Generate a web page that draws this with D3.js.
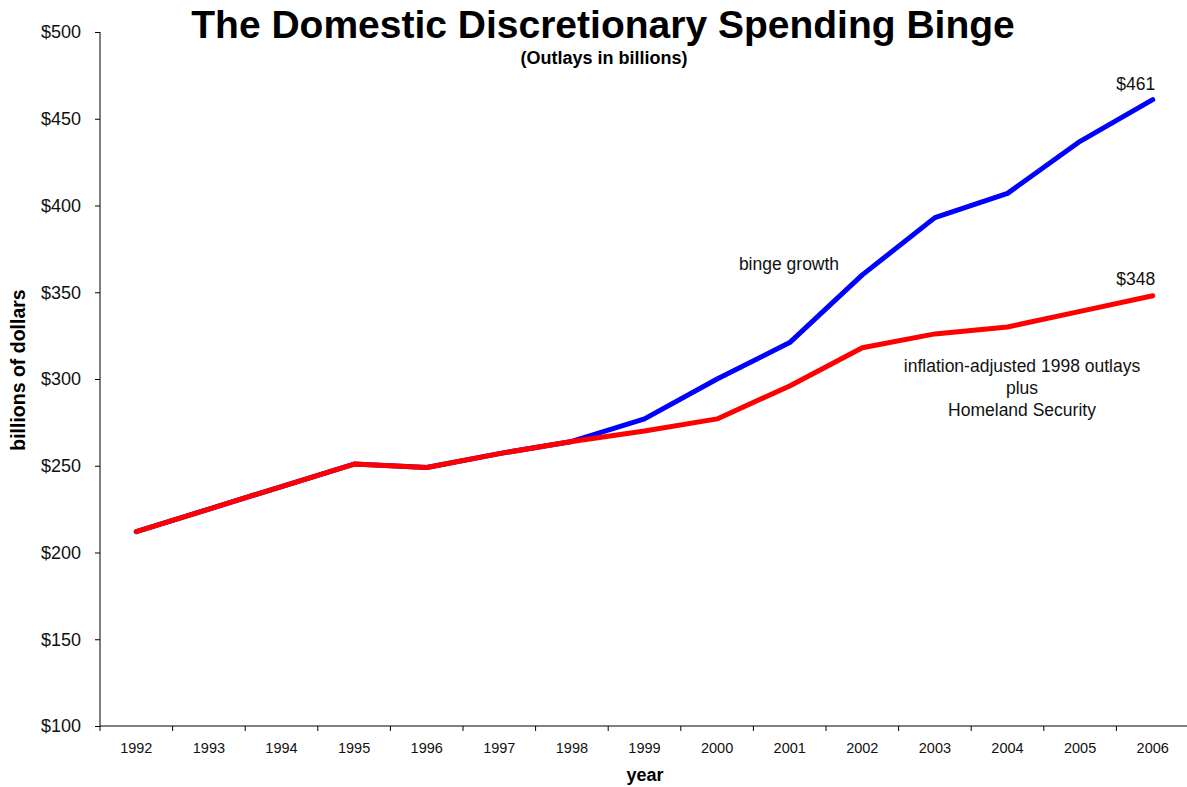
<!DOCTYPE html>
<html>
<head>
<meta charset="utf-8">
<script src="https://cdn.jsdelivr.net/npm/d3@7"></script>
<style>
  body { margin: 0; background: #fff; }
  svg, svg text { font-family: "Liberation Sans", Arial, sans-serif; }
</style>
</head>
<body>
<div id="container"></div>
<script>
// data (billions of dollars)
const years = ["1992","1993","1994","1995","1996","1997","1998","1999","2000","2001","2002","2003","2004","2005","2006"];
const bingeOutlays = [212, 225, 238, 251, 249, 257, 264, 277, 300, 321, 360, 393, 407, 437, 461];
const adjustedOutlays = [212, 225, 238, 251, 249, 257, 264, 270, 277, 296, 318, 326, 330, 339, 348];
const yTicks = [100, 150, 200, 250, 300, 350, 400, 450, 500];

const width = 1187,
height = 787,
margin = {top: 32, bottom: 61, left: 100, right: -2};

const svg = d3.select("#container").append("svg")
  .attr("width", width)
  .attr("height", height)

// SCALES
const xScale = d3.scaleBand()
  .domain(years)
  .range([margin.left, width - margin.right])

const yScale = d3.scaleLinear()
  .domain([100, 500])
  .range([height - margin.bottom, margin.top])

const xMid = d => xScale(d) + xScale.bandwidth() / 2

// AXES
const yAxis = d3.axisLeft(yScale)
  .tickValues(yTicks)
  .tickSize(5)
  .tickPadding(14)
  .tickFormat(d => "$" + d)

const yAxisGroup = svg.append("g")
  .attr("transform", `translate(${margin.left},0)`)
  .call(yAxis)
  .attr("font-family", "Liberation Sans, Arial, sans-serif")
  .attr("font-size", "18px")
yAxisGroup.select(".domain").attr("d", `M0,${yScale(100)}V${yScale(500)}`)
yAxisGroup.selectAll("text").attr("fill", "#111")

// x ticks sit on the band edges, labels at band centres
const xAxisGroup = svg.append("g")
  .attr("transform", `translate(0,${yScale(100)})`)
xAxisGroup.append("line")
  .attr("x1", margin.left).attr("x2", width - margin.right)
  .attr("stroke", "#000").attr("stroke-width", 1)
xAxisGroup.selectAll("line.tick")
  .data(years)
  .join("line")
  .attr("class", "tick")
  .attr("x1", d => xScale(d)).attr("x2", d => xScale(d))
  .attr("y1", 0).attr("y2", 5)
  .attr("stroke", "#000")
xAxisGroup.selectAll("text")
  .data(years)
  .join("text")
  .attr("x", d => xMid(d))
  .attr("y", 27)
  .attr("text-anchor", "middle")
  .attr("font-size", "14.5px")
  .attr("fill", "#111")
  .text(d => d)

// LINES
const line = d3.line()
  .x((d, i) => xMid(years[i]))
  .y(d => yScale(d))

svg.append("path")
  .datum(bingeOutlays)
  .attr("d", line)
  .attr("fill", "none")
  .attr("stroke", "#0000ff")
  .attr("stroke-width", 5)
  .attr("stroke-linejoin", "round")
  .attr("stroke-linecap", "round")

svg.append("path")
  .datum(adjustedOutlays)
  .attr("d", line)
  .attr("fill", "none")
  .attr("stroke", "#ff0000")
  .attr("stroke-width", 5)
  .attr("stroke-linejoin", "round")
  .attr("stroke-linecap", "round")

// LABELS
const last = years.length - 1
svg.append("text")
  .attr("x", xMid(years[last]) - 17)
  .attr("y", yScale(bingeOutlays[last]) - 10)
  .attr("text-anchor", "middle")
  .attr("font-size", "17.5px")
  .attr("fill", "#111")
  .text("$" + bingeOutlays[last])

svg.append("text")
  .attr("x", xMid(years[last]) - 17)
  .attr("y", yScale(adjustedOutlays[last]) - 11)
  .attr("text-anchor", "middle")
  .attr("font-size", "17.5px")
  .attr("fill", "#111")
  .text("$" + adjustedOutlays[last])

svg.append("text")
  .attr("x", 789).attr("y", 270)
  .attr("text-anchor", "middle")
  .attr("font-size", "17.5px")
  .attr("fill", "#111")
  .text("binge growth")

const note = svg.append("text")
  .attr("x", 1022).attr("y", 372)
  .attr("text-anchor", "middle")
  .attr("font-size", "17.5px")
  .attr("fill", "#111")
note.selectAll("tspan")
  .data(["inflation-adjusted 1998 outlays", "plus", "Homeland Security"])
  .join("tspan")
  .attr("x", 1022)
  .attr("dy", (d, i) => i ? 22 : 0)
  .text(d => d)

svg.append("text")
  .attr("x", 603).attr("y", 38)
  .attr("text-anchor", "middle")
  .attr("font-size", "39px")
  .attr("font-weight", "bold")
  .text("The Domestic Discretionary Spending Binge")

svg.append("text")
  .attr("x", 604).attr("y", 64)
  .attr("text-anchor", "middle")
  .attr("font-size", "18px")
  .attr("font-weight", "bold")
  .text("(Outlays in billions)")

svg.append("text")
  .attr("transform", `translate(25,370) rotate(-90)`)
  .attr("text-anchor", "middle")
  .attr("font-size", "19.5px")
  .attr("font-weight", "bold")
  .text("billions of dollars")

svg.append("text")
  .attr("x", 645).attr("y", 781)
  .attr("text-anchor", "middle")
  .attr("font-size", "18px")
  .attr("font-weight", "bold")
  .text("year")
</script>
</body>
</html>
